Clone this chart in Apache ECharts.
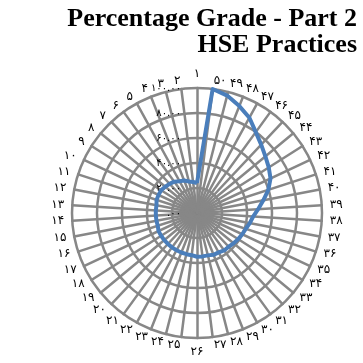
<!DOCTYPE html>
<html>
<head>
<meta charset="utf-8">
<script src="https://cdn.jsdelivr.net/npm/echarts@6/dist/echarts.min.js"></script>
<style>html,body{margin:0;padding:0;background:#fff}#c{width:363px;height:363px}</style>
</head>
<body>
<div id="c"></div>
<script>
var categories = ['۱','۲','۳','۴','۵','۶','۷','۸','۹','۱۰','۱۱','۱۲','۱۳','۱۴','۱۵','۱۶','۱۷','۱۸','۱۹','۲۰','۲۱','۲۲','۲۳','۲۴','۲۵','۲۶','۲۷','۲۸','۲۹','۳۰','۳۱','۳۲','۳۳','۳۴','۳۵','۳۶','۳۷','۳۸','۳۹','۴۰','۴۱','۴۲','۴۳','۴۴','۴۵','۴۶','۴۷','۴۸','۴۹','۵۰'];
var values = [24,25,26,28,29,31,32,33,34,34,34,33,33,33,33,33,34,34,34,34,34,34,34,34,34,35,35,35,36,36,37,37,38,39,40,41,43,45,49,54,60,65,68,71,75,80,87,92,97,100];
var tickValues = [0,20,40,60,80,100];
var tickLabels = ['.۰۰','۲۰.۰۰','۴۰.۰۰','۶۰.۰۰','۸۰.۰۰','۱۰۰.۰۰'];
var titleLines = ['Percentage Grade - Part 2', 'HSE Practices'];

var titleStyle = {fontFamily: 'Liberation Serif', fontWeight: 'bold', fontSize: 26, color: '#000'};
var chart = echarts.init(document.getElementById('c'));
chart.setOption({
  animation: false,
  title: titleLines.map(function (t, i) {
    return {text: t, right: 6, top: 6 + i * 26, padding: 0, textStyle: titleStyle};
  }),
  radar: {
    center: [197, 213],
    radius: 125,
    startAngle: 90,
    shape: 'circle',
    splitNumber: 5,
    nameGap: 8,
    indicator: categories.map(function (c) { return {name: c, min: 0, max: 100}; }),
    axisName: {color: '#000', fontSize: 12, fontFamily: 'DejaVu Sans'},
    axisLine: {lineStyle: {color: '#878787', width: 2.5}},
    splitLine: {lineStyle: {color: '#878787', width: 2.5}},
    splitArea: {show: false},
    axisTick: {show: false},
    axisLabel: {show: false}
  },
  polar: {center: [197, 213], radius: 125},
  angleAxis: {show: false, startAngle: 90, min: 0, max: 360},
  radiusAxis: {
    min: 0, max: 100, interval: 20,
    axisLine: {show: false}, axisTick: {show: false}, splitLine: {show: false},
    axisLabel: {
      margin: 16, fontSize: 10, color: '#000', fontFamily: 'DejaVu Sans',
      formatter: function (v) { var i = tickValues.indexOf(v); return i >= 0 ? tickLabels[i] : ''; }
    }
  },
  series: [{
    type: 'radar',
    symbol: 'none',
    lineStyle: {color: '#4a7ebb', width: 4},
    data: [{value: values}]
  }]
});
</script>
</body>
</html>
